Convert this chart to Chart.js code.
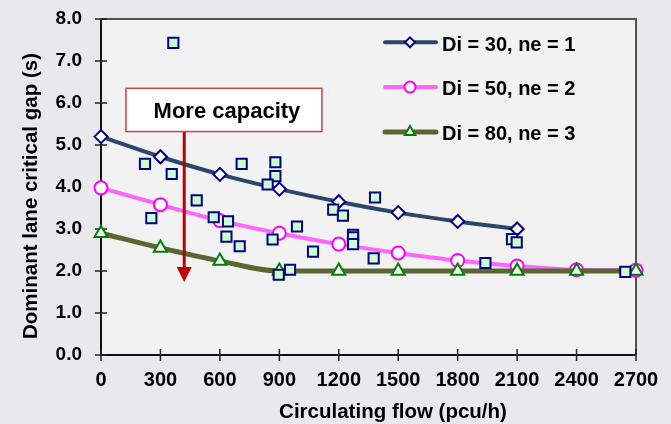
<!DOCTYPE html>
<html><head><meta charset="utf-8">
<script src="https://cdn.jsdelivr.net/npm/chart.js@4"></script>
<style>html,body{margin:0;padding:0;background:#e9e9ec;}canvas{display:block;}</style>
</head><body>
<canvas id="c" width="671" height="424"></canvas>
<script>
// ---- data ----
const flowX = [0, 300, 600, 900, 1200, 1500, 1800, 2100, 2400, 2700];
const gapDi30 = [5.2, 4.72, 4.3, 3.95, 3.65, 3.39, 3.18, 3.0];
const gapDi50 = [3.98, 3.58, 3.2, 2.9, 2.64, 2.43, 2.25, 2.12, 2.03, 2.02];
const gapDi80 = [2.9, 2.55, 2.24, 2.0, 2.0, 2.0, 2.0, 2.0, 2.0, 2.0];
const obsFlow = [365, 222, 357, 710, 880, 880, 841, 483, 1172, 1221, 1383, 254, 569, 641, 633, 700, 866, 989, 1070, 897, 954, 1272, 1272, 1272, 1376, 2074, 2098, 1940, 2646];
const obsGap  = [7.43, 4.55, 4.31, 4.55, 4.59, 4.26, 4.06, 3.68, 3.46, 3.32, 3.75, 3.26, 3.28, 3.18, 2.82, 2.59, 2.75, 3.06, 2.46, 1.91, 2.03, 2.86, 2.80, 2.64, 2.30, 2.76, 2.68, 2.19, 1.98];
const seriesLabels = ['Di = 30, ne = 1', 'Di = 50, ne = 2', 'Di = 80, ne = 3'];
const xTickValues = [0, 300, 600, 900, 1200, 1500, 1800, 2100, 2400, 2700];
const xTickLabels = ['0', '300', '600', '900', '1200', '1500', '1800', '2100', '2400', '2700'];
const yTickValues = [0, 1, 2, 3, 4, 5, 6, 7, 8];
const yTickLabels = ['0.0', '1.0', '2.0', '3.0', '4.0', '5.0', '6.0', '7.0', '8.0'];
const xTitle = 'Circulating flow (pcu/h)';
const yTitle = 'Dominant lane critical gap (s)';
const noteText = 'More capacity';

const FONT = '"Liberation Sans", Arial, sans-serif';
const pts = (xs, ys) => ys.map((y, i) => ({x: xs[i], y}));

function drawMarker(ctx, ds, x, y, r) {
  ctx.save();
  ctx.fillStyle = ds.pointBackgroundColor;
  ctx.strokeStyle = ds.pointBorderColor;
  ctx.lineWidth = ds.pointBorderWidth;
  Chart.helpers.drawPoint(ctx, {pointStyle: ds.pointStyle, radius: r, rotation: 0, borderWidth: ds.pointBorderWidth}, x, y);
  ctx.restore();
}

const framePlugin = {
  id: 'frame',
  beforeDraw(chart) {
    const {ctx, chartArea: a} = chart;
    ctx.save();
    ctx.fillStyle = '#e9e9ec';
    ctx.fillRect(0, 0, chart.width, chart.height);
    ctx.fillStyle = '#f2f2f2';
    ctx.fillRect(a.left, a.top, a.right - a.left, a.bottom - a.top);
    ctx.restore();
  },
  beforeDatasetsDraw(chart) {
    const {ctx, chartArea: a, scales: {x, y}} = chart;
    ctx.save();
    ctx.strokeStyle = '#505050'; ctx.lineWidth = 2;
    ctx.beginPath(); ctx.moveTo(a.left, a.top); ctx.lineTo(a.right, a.top); ctx.lineTo(a.right, a.bottom); ctx.stroke();
    ctx.strokeStyle = '#111'; ctx.lineWidth = 2;
    ctx.beginPath(); ctx.moveTo(a.left, a.top); ctx.lineTo(a.left, a.bottom); ctx.lineTo(a.right, a.bottom); ctx.stroke();
    ctx.lineWidth = 1.5; ctx.strokeStyle = '#222';
    ctx.beginPath();
    x.ticks.forEach(t => { const px = x.getPixelForValue(t.value); ctx.moveTo(px, a.bottom - 6); ctx.lineTo(px, a.bottom + 6); });
    y.ticks.forEach(t => { const py = y.getPixelForValue(t.value); ctx.moveTo(a.left - 6, py); ctx.lineTo(a.left + 6, py); });
    ctx.stroke();
    ctx.restore();
  },
  afterDatasetsDraw(chart, args, o) {
    const {ctx, scales: {x, y}} = chart;
    ctx.save();
    const l = x.getPixelForValue(o.box[0]), r = x.getPixelForValue(o.box[1]);
    const t = y.getPixelForValue(o.box[2]), b = y.getPixelForValue(o.box[3]);
    const ax = x.getPixelForValue(o.arrowX), tip = y.getPixelForValue(o.arrowTip);
    ctx.strokeStyle = '#c00000'; ctx.lineWidth = 3;
    ctx.beginPath(); ctx.moveTo(ax, b); ctx.lineTo(ax, tip - 14); ctx.stroke();
    ctx.fillStyle = '#c00000';
    ctx.beginPath(); ctx.moveTo(ax - 7.5, tip - 15); ctx.lineTo(ax + 7.5, tip - 15); ctx.lineTo(ax, tip); ctx.closePath(); ctx.fill();
    ctx.fillStyle = '#ffffff';
    ctx.fillRect(l, t, r - l, b - t);
    ctx.strokeStyle = '#cc4444'; ctx.lineWidth = 1.5;
    ctx.strokeRect(l, t, r - l, b - t);
    ctx.fillStyle = '#000'; ctx.font = 'bold 22px ' + FONT;
    ctx.textAlign = 'center'; ctx.textBaseline = 'alphabetic';
    ctx.fillText(noteText, (l + r) / 2 + 3, (t + b) / 2 + 8);
    const items = [chart.data.datasets[1], chart.data.datasets[2], chart.data.datasets[3]];
    const radii = [5, 5.5, 6];
    items.forEach((ds, i) => {
      const ly = 42.3 + i * 44.8;
      ctx.strokeStyle = ds.borderColor; ctx.lineWidth = ds.borderWidth; ctx.lineCap = 'round';
      ctx.beginPath(); ctx.moveTo(385, ly); ctx.lineTo(436, ly); ctx.stroke();
      drawMarker(ctx, ds, 410, ly, radii[i]);
      ctx.fillStyle = '#000'; ctx.font = 'bold 20px ' + FONT;
      ctx.textAlign = 'left'; ctx.textBaseline = 'alphabetic';
      ctx.fillText(seriesLabels[i], 442, ly + 8.3);
    });
    ctx.restore();
  },
  afterDraw(chart) {
    const {ctx} = chart;
    ctx.save();
    ctx.fillStyle = '#000'; ctx.font = 'bold 20.5px ' + FONT;
    ctx.textAlign = 'center'; ctx.textBaseline = 'alphabetic';
    ctx.fillText(xTitle, 393, 418);
    ctx.translate(37, 196); ctx.rotate(-Math.PI / 2);
    ctx.fillText(yTitle, 0, 0);
    ctx.restore();
  }
};

new Chart(document.getElementById('c'), {
  type: 'line',
  data: {
    datasets: [
      {
        label: 'Observed', data: pts(obsFlow, obsGap), showLine: false, order: 0, clip: false,
        pointStyle: 'rect', pointRadius: 7.2, pointBackgroundColor: '#ccffcc', pointBorderColor: '#000080', pointBorderWidth: 2,
        borderColor: '#000080', backgroundColor: '#ccffcc'
      },
      {
        label: seriesLabels[0], data: pts(flowX, gapDi30), order: 3, clip: false,
        borderColor: '#2c4667', borderWidth: 4, cubicInterpolationMode: 'monotone',
        pointStyle: 'rectRot', pointRadius: 6.5, pointBackgroundColor: '#ffffff', pointBorderColor: '#000080', pointBorderWidth: 2
      },
      {
        label: seriesLabels[1], data: pts(flowX, gapDi50), order: 2, clip: false,
        borderColor: '#ff66ff', borderWidth: 4, cubicInterpolationMode: 'monotone',
        pointStyle: 'circle', pointRadius: 6.5, pointBackgroundColor: '#ffffff', pointBorderColor: '#ff00ff', pointBorderWidth: 2
      },
      {
        label: seriesLabels[2], data: pts(flowX, gapDi80), order: 1, clip: false,
        borderColor: '#586830', borderWidth: 5, cubicInterpolationMode: 'monotone',
        pointStyle: 'triangle', pointRadius: 7.5, pointBackgroundColor: '#ffffff', pointBorderColor: '#008000', pointBorderWidth: 2
      }
    ]
  },
  options: {
    responsive: false, animation: false, devicePixelRatio: 1, events: [],
    layout: {padding: {top: 19, right: 35, left: 0, bottom: 0}},
    plugins: {
      legend: {display: false}, tooltip: {enabled: false},
      frame: {box: [126, 1115, 6.35, 5.32], arrowX: 420, arrowTip: 1.74}
    },
    scales: {
      x: {
        type: 'linear', min: 0, max: 2700,
        afterBuildTicks: s => { s.ticks = xTickValues.map(v => ({value: v})); },
        afterFit: s => { s.height = 69; s.paddingLeft = 0; s.paddingRight = 0; },
        grid: {display: false, drawTicks: false}, border: {display: false},
        ticks: {padding: 13, color: '#000', font: {family: FONT, size: 20, weight: 'bold'},
                callback: (v, i) => xTickLabels[i], maxRotation: 0, autoSkip: false}
      },
      y: {
        type: 'linear', min: 0, max: 8,
        afterBuildTicks: s => { s.ticks = yTickValues.map(v => ({value: v})); },
        afterFit: s => { s.width = 101; s.paddingTop = 0; s.paddingBottom = 0; },
        grid: {display: false, drawTicks: false}, border: {display: false},
        ticks: {padding: 19, color: '#000', font: {family: FONT, size: 19, weight: 'bold'},
                callback: (v, i) => yTickLabels[i], autoSkip: false}
      }
    }
  },
  plugins: [framePlugin]
});
</script>
</body></html>
